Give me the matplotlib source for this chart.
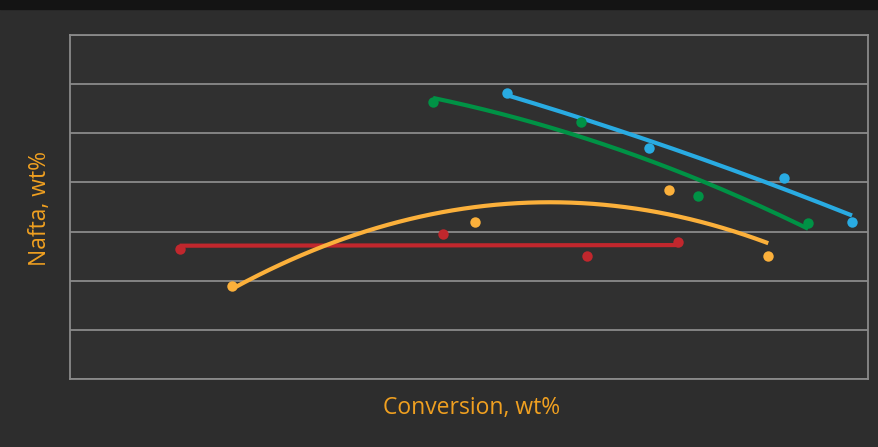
import matplotlib.pyplot as plt
import numpy as np

# conversion (x) vs naphtha yield (y) for four catalysts
red_x = [55.5, 68.7, 75.9, 80.5]
red_y = [33.2, 34.8, 32.5, 33.9]

orange_x = [58.1, 70.3, 80.0, 85.0]
orange_y = [29.5, 36.0, 39.2, 32.5]

green_x = [68.2, 75.6, 81.5, 87.0]
green_y = [48.2, 46.1, 38.6, 35.9]

blue_x = [71.9, 79.0, 85.8, 89.2]
blue_y = [49.1, 43.5, 40.5, 36.0]

# (x, y, colour, trendline order)
series = [
    (red_x, red_y, "#c1272d", 1),
    (orange_x, orange_y, "#fbb03b", 2),
    (green_x, green_y, "#009245", 2),
    (blue_x, blue_y, "#29abe2", 2),
]

bg = "#2d2d2d"
fig = plt.figure(figsize=(8.79, 4.47), dpi=100, facecolor=bg)
# dark strip along the top of the slide
fig.patches.append(plt.Rectangle((0, 1 - 9 / 447), 1, 9 / 447, transform=fig.transFigure,
                                 color="#141414", zorder=0))

ax = fig.add_axes([70 / 879, 68 / 447, 798 / 879, 344 / 447])
ax.set_facecolor("#303030")
ax.set_xlim(50, 90)
ax.set_ylim(20, 55)
ax.set_yticks(np.arange(20, 56, 5))
ax.set_xticks([])
ax.tick_params(left=False, labelleft=False)
ax.grid(axis="y", color="#8a8a8a", lw=1.3)
ax.set_axisbelow(True)
for s in ax.spines.values():
    s.set_color("#8a8a8a")
    s.set_linewidth(1.3)

# scatter points plus polynomial trendline per catalyst
for x, y, c, order in series:
    coef = np.polyfit(x, y, order)
    xs = np.linspace(min(x), max(x), 200)
    ax.plot(xs, np.polyval(coef, xs), color=c, lw=3, solid_capstyle="butt", zorder=3)
    ax.plot(x, y, "o", color=c, ms=7.5, mec="none", zorder=4)

label_font = dict(family=["Open Sans", "DejaVu Sans"], size=16.5, color="#f0a020")
fig.text(472 / 879, 1 - 408 / 447, "Conversion, wt%", ha="center", va="center", **label_font)
fig.text(40 / 879, 1 - 208 / 447, "Nafta, wt%", ha="center", va="center", rotation=90, **label_font)

fig.savefig("out.png", dpi=100, facecolor=bg)
